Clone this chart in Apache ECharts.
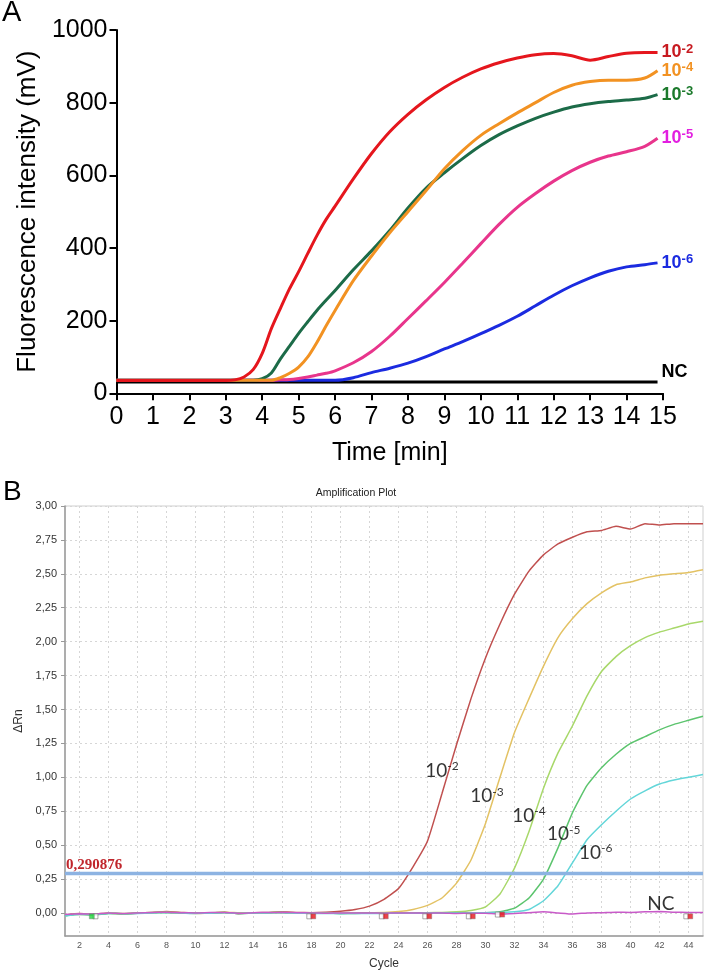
<!DOCTYPE html>
<html><head><meta charset="utf-8">
<script src="https://cdn.jsdelivr.net/npm/echarts@6/dist/echarts.min.js"></script>
<style>html,body{margin:0;padding:0;background:#fff}#c{width:707px;height:974px}</style>
</head><body><div id="c"></div>
<script>
// ---------- Panel A data (time in min, fluorescence in mV) ----------
const timesA = [0,1,2,3,3.25,3.5,3.75,4,4.25,4.5,4.75,5,5.25,5.5,5.75,6,6.5,7,7.5,8,8.5,9,9.5,10,10.5,11,11.5,12,12.5,13,13.5,14,14.5,14.85];
const a_e2 = [35,35,35,35,37,45,65,110,178,234,288,335,385,434,478,515,590,660,720,768,808,842,870,893,910,923,932,935,929,917,927,936,938,938];
const a_e4 = [36,36,36,36,36,36,36,36,36,43,55,72,100,140,185,228,310,378,442,500,558,618,668,710,742,772,800,828,848,858,862,862,868,888];
const a_e3 = [36,36,36,36,36,36,36,40,56,95,130,165,197,228,256,283,340,392,448,510,565,607,646,682,712,736,757,774,788,797,803,807,812,822];
const a_e5 = [36,36,36,36,36,36,36,36,36,37,38,41,45,50,55,62,84,115,157,206,255,305,358,412,465,512,550,584,613,636,653,665,680,702];
const a_e6 = [36,36,36,36,36,36,36,36,36,36,36,36,36,36,36,36,43,57,69,83,101,122,142,164,187,212,241,270,296,318,336,348,354,359];
const a_nc = [31,31,31,31,31,31,31,31,31,31,31,31,31,31,31,31,31,31,31,31,31,31,31,31,31,31,31,31,31,31,31,31,31,31];
const namesA = ['10^-2','10^-4','10^-3','10^-5','10^-6','NC'];
const ticksAx = [0,1,2,3,4,5,6,7,8,9,10,11,12,13,14,15];

// ---------- Panel B data (cycle, ΔRn) ----------
const cyclesB = [1,2,3,4,5,6,7,8,9,10,11,12,13,14,15,16,17,18,19,20,21,22,23,24,25,26,27,28,29,30,31,32,33,34,35,36,37,38,39,40,41,42,43,44,45];
const b_e2 = [-0.015,-0.005,-0.01,0,-0.008,-0.002,0.004,0.01,0.004,-0.002,0,0.005,-0.006,0.002,0.004,0.008,0.003,0.002,0.005,0.012,0.025,0.05,0.1,0.18,0.34,0.53,0.88,1.24,1.58,1.88,2.13,2.35,2.52,2.64,2.72,2.77,2.81,2.82,2.85,2.83,2.87,2.86,2.87,2.87,2.87];
const b_e3 = [-0.02,-0.01,-0.012,-0.002,-0.004,0,0.002,0.004,0,-0.004,0,0.006,0.002,0,0.002,0.004,0.002,0,0,-0.002,0,0.002,0.003,0.01,0.026,0.056,0.11,0.22,0.39,0.66,1.0,1.33,1.58,1.82,2.03,2.17,2.28,2.36,2.42,2.44,2.47,2.49,2.5,2.51,2.53];
const b_e4 = [-0.018,-0.008,-0.01,-0.002,-0.006,0,0.003,0.006,0.002,-0.002,0.002,0.004,-0.002,0.002,0.002,0.004,0,0,-0.002,-0.004,-0.002,0,-0.002,0,0,0.002,0.004,0.008,0.018,0.045,0.14,0.33,0.6,0.92,1.18,1.38,1.6,1.78,1.89,1.97,2.03,2.07,2.1,2.13,2.15];
const b_e5 = [-0.02,-0.01,-0.015,-0.004,-0.006,-0.002,0.002,0.004,0,-0.002,0,0.004,-0.004,0,0.002,0.004,0,-0.002,-0.002,-0.004,-0.004,-0.002,-0.002,0,-0.002,0,0,0.002,0,0.002,0.008,0.035,0.11,0.25,0.48,0.74,0.94,1.07,1.17,1.25,1.3,1.35,1.39,1.42,1.45];
const b_e6 = [-0.022,-0.012,-0.012,-0.004,-0.006,-0.004,0,0.002,0,-0.004,-0.002,0.002,-0.004,0,0,0.002,-0.002,-0.004,-0.004,-0.006,-0.004,-0.004,-0.004,-0.002,-0.002,-0.002,0,0,0,0.002,0.004,0.008,0.025,0.09,0.2,0.37,0.54,0.65,0.75,0.84,0.9,0.95,0.98,1.0,1.02];
const b_nc = [-0.012,-0.006,-0.008,0,-0.004,0,0.004,0.006,0.002,0,0.003,0.004,-0.002,0.002,0.003,0.005,0.002,0,-0.002,0,0,0,-0.002,0,0,-0.002,0,-0.004,-0.002,-0.003,-0.008,-0.004,0.002,0.008,0,-0.008,0,0.002,0.006,0.004,0.008,0.01,0.006,0.004,0.004];
const namesB = ['10^-2','10^-3','10^-4','10^-5','10^-6','NC'];
const thresholdB = 0.290876;
const yTicksB = [0,0.25,0.5,0.75,1,1.25,1.5,1.75,2,2.25,2.5,2.75,3];
const xTicksB = [2,4,6,8,10,12,14,16,18,20,22,24,26,28,30,32,34,36,38,40,42,44];
// curve label anchors (cycle, ΔRn)
const labelCycleB = [27.0,30.1,33.0,35.4,37.6,42.1];
const labelValueB = [1.05,0.86,0.716,0.58,0.445,0.07];
// baseline start / end markers
const markerOpenX = [3.1,17.85,22.85,25.85,28.85,30.85,43.85];
const markerFillX = [2.85,18.12,23.12,26.12,29.12,31.15,44.12];
const markerY = [-0.025,-0.025,-0.025,-0.025,-0.025,-0.012,-0.025];

// ---------- build ----------
const FA = 'Liberation Sans, Arial, sans-serif';
function richName(n){ const p = n.split('^'); return p.length>1 ? '{b|'+p[0]+'}{s|'+p[1]+'}' : '{b|'+n+'}'; }

const lineColA = ['#e5161d','#f29222','#1c6b48','#e8358c','#1b2be0','#000000'];
const labColA = ['#c71a20','#f29222','#1c7a2c','#e21fe0','#1b2be0','#000000'];
const valsA = [a_e2,a_e4,a_e3,a_e5,a_e6,a_nc];
const seriesA = valsA.map((v,i)=>({
  type:'line', xAxisIndex:0, yAxisIndex:0, name:namesA[i],
  data: timesA.map((t,j)=>[t,v[j]]),
  showSymbol:false, smooth:0.3, z: 10-i,
  lineStyle:{color:lineColA[i], width:3},
  endLabel:{show:true, distance:4, offset: namesA[i]==='NC'?[0,-10]:[0,0],
    formatter:()=>richName(namesA[i]),
    rich:{b:{fontFamily:FA,fontWeight:'bold',fontSize:18,lineHeight:20,color:labColA[i]},
          s:{fontFamily:FA,fontWeight:'bold',fontSize:13,lineHeight:13,verticalAlign:'top',color:labColA[i]}}}
}));

const lineColB = ['#c0504f','#e3c264','#a8d86a','#5cc46e','#63d6d9','#c85ac8'];
const valsB = [b_e2,b_e3,b_e4,b_e5,b_e6,b_nc];
const seriesB = valsB.map((v,i)=>({
  type:'line', xAxisIndex:1, yAxisIndex:1, name:'B'+namesB[i],
  data: cyclesB.map((c,j)=>[c,v[j]]),
  showSymbol:false, smooth:0.15, z:5,
  lineStyle:{color:lineColB[i], width:1.5}
}));

const thrSeries = {
  type:'line', xAxisIndex:1, yAxisIndex:1, z:8,
  data:[{value:[cyclesB[0],thresholdB], label:{show:true, position:[1,-16], formatter:String(thresholdB).replace('.',','),
          fontFamily:'Liberation Serif, Times New Roman, serif', fontWeight:'bold', fontSize:15, color:'#c0262c'}},
        [cyclesB[cyclesB.length-1],thresholdB]],
  symbol:'circle', symbolSize:0, showSymbol:true,
  lineStyle:{color:'#8db3e2', width:3.5}
};

const labelSeriesB = {
  type:'scatter', xAxisIndex:1, yAxisIndex:1, symbolSize:0, z:9,
  data: labelCycleB.map((c,i)=>({value:[c,labelValueB[i]], name:namesB[i]})),
  label:{show:true, position:'inside', formatter:p=>richName(p.name),
    rich:{b:{fontFamily:'Lato, Open Sans, sans-serif',fontSize:19,lineHeight:21,color:'#000'},
          s:{fontFamily:'Lato, Open Sans, sans-serif',fontSize:12,lineHeight:12,verticalAlign:'top',color:'#000'}}}
};

const markerSeries = [
  {type:'scatter', xAxisIndex:1, yAxisIndex:1, symbol:'rect', symbolSize:5, z:9,
   data: markerOpenX.map((x,i)=>[x,markerY[i]]),
   itemStyle:{color:'#ffffff', borderColor:'#777', borderWidth:0.8}},
  {type:'scatter', xAxisIndex:1, yAxisIndex:1, symbol:'rect', symbolSize:5, z:9,
   data: markerFillX.map((x,i)=>({value:[x,markerY[i]], itemStyle:{color: i===0?'#22d43c':'#e8141c'}})),
   itemStyle:{borderColor:'#777', borderWidth:0.5}}
];

const option = {
  animation:false,
  backgroundColor:'#ffffff',
  textStyle:{fontFamily:FA},
  graphic:[
    {type:'text', left:2, top:-2, style:{text:'A', font:'29px '+FA, fill:'#000'}},
    {type:'text', left:3, top:478, style:{text:'B', font:'28px '+FA, fill:'#000'}},
    {type:'text', x:356, y:493, style:{text:'Amplification Plot', font:'10.5px '+FA, fill:'#222', align:'center', verticalAlign:'middle'}}
  ],
  grid:[
    {left:116.5, right:44, top:30, bottom:580.7},
    {left:65, right:4, top:506, bottom:38, show:true, borderColor:'#cfcfcf', borderWidth:1}
  ],
  xAxis:[
    {gridIndex:0, type:'value', min:ticksAx[0], max:ticksAx[ticksAx.length-1], interval:1,
     axisLine:{lineStyle:{color:'#000',width:2}},
     axisTick:{length:7, lineStyle:{color:'#000',width:2}},
     axisLabel:{fontSize:25, color:'#000', margin:11, fontFamily:FA},
     splitLine:{show:false},
     name:'Time [min]', nameLocation:'middle', nameGap:47,
     nameTextStyle:{fontSize:25, color:'#000', fontFamily:FA}},
    {gridIndex:1, type:'value', min:cyclesB[0], max:cyclesB[cyclesB.length-1],
     axisLine:{onZero:false, lineStyle:{color:'#9a9a9a',width:1.5}},
     axisTick:{show:false, customValues:xTicksB},
     axisLabel:{customValues:xTicksB, fontSize:9, color:'#555', margin:5, fontFamily:FA},
     splitLine:{show:true, lineStyle:{color:'#d6d6d6', type:[2,3], width:1}},
     name:'Cycle', nameLocation:'middle', nameGap:22,
     nameTextStyle:{fontSize:12, color:'#333', fontFamily:FA}}
  ],
  yAxis:[
    {gridIndex:0, type:'value', min:0, max:1000, interval:200,
     axisLine:{show:true, lineStyle:{color:'#000',width:2}},
     axisTick:{show:true, length:7, lineStyle:{color:'#000',width:2}},
     axisLabel:{fontSize:25, color:'#000', margin:9, fontFamily:FA, formatter:v=>String(v)},
     splitLine:{show:false},
     name:'Fluorescence intensity (mV)', nameLocation:'middle', nameGap:64,
     nameTextStyle:{fontSize:26, color:'#000', fontFamily:FA}},
    {gridIndex:1, type:'value', min:-0.17, max:3,
     axisLine:{show:true, onZero:false, lineStyle:{color:'#9a9a9a',width:1.5}},
     axisTick:{show:true, length:4, customValues:yTicksB, lineStyle:{color:'#999'}},
     axisLabel:{customValues:yTicksB, fontSize:11, color:'#333', margin:8, fontFamily:FA,
       formatter:v=>v.toFixed(2).replace('.',',')},
     splitLine:{show:true, lineStyle:{color:'#d6d6d6', type:[2,3], width:1}},
     name:'ΔRn', nameLocation:'middle', nameGap:38,
     nameTextStyle:{fontSize:12, color:'#333', fontFamily:FA}}
  ],
  series:[...seriesA, ...seriesB, thrSeries, labelSeriesB, ...markerSeries]
};
const chart = echarts.init(document.getElementById('c'), null, {renderer:'canvas', width:707, height:974});
chart.setOption(option);
</script></body></html>
